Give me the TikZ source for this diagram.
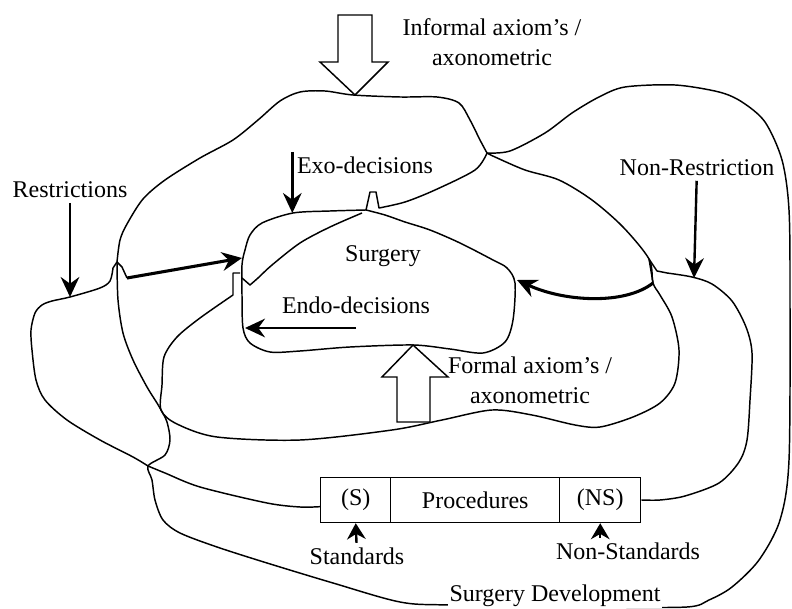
\documentclass[tikz,border=0pt]{standalone}
\usepackage{fontspec}
\setmainfont{Liberation Serif}
\usetikzlibrary{arrows.meta}
\newcommand{\cellheight}{33.75pt}
\newcommand{\widthstd}{52.5pt}
\newcommand{\widthproc}{126.75pt}
\newcommand{\widthnonstd}{60.75pt}
\tikzset{
    every node/.style={font=\fontsize{18}{22.5}\selectfont},
    curve/.style={line width=1.1pt, line join=round},
    cell/.style={draw, anchor=west, line width=1.1pt, minimum height=\cellheight, inner sep=0pt},
    pointer/.style={-{Stealth[length=15pt, width=14pt, inset=5pt]}, line width=1.8pt},
    pointer small/.style={-{Stealth[length=12pt, width=14pt, inset=4pt]}, line width=1.8pt},
    heavy/.style={-{Stealth[length=15pt, width=14pt, inset=5pt]}, line width=2.3pt},
    blockarrow/.style={draw, fill=white, line width=1.1pt, line join=miter}
}

\begin{document}
\begin{tikzpicture}[x=0.75pt, y=-0.75pt]
    \useasboundingbox (0,0) rectangle (792,609);

    % junctions of the outlines
    \coordinate (J) at (487,153);
    \coordinate (SL) at (117,262);
    \coordinate (SR) at (649,259);
    \coordinate (N1) at (161,410);
    \coordinate (N2) at (148,466);
    \coordinate (SLfoot) at (127,278);
    \coordinate (SRfoot) at (653,283);

    % procedures box
    \path (320,500) node[cell, minimum width=\widthstd] (cellS) {(S)}
        ++(70,0) node[cell, minimum width=\widthproc] (cellP) {Procedures}
        ++(169,0) node[cell, minimum width=\widthnonstd] (cellNS) {(NS)};
    \coordinate (boxL) at ([yshift=-5pt]cellS.west);

    % informal region, top
    \draw[curve] plot[smooth] coordinates {(SL) (120,240) (127,224) (143,199) (165,180) (200,158) (233,140)
        (258,120) (280,101) (300,92) (325,91) (353,95) (400,97) (437,97) (459,103) (470,120) (480,140) (J)};

    % left side and outer outline
    \draw[curve] plot[smooth] coordinates {(SL) (118,300) (123,333) (133,360) (147,387) (157,403) (N1)
        (167,422) (170,440) (165,455) (N2) (152,480) (155,500) (163,520) (180,533) (217,547) (267,563)
        (333,583) (400,602) (450,605) (600,607) (687,607) (709,600) (732,587) (759,560) (780,520)
        (789,460) (790,300) (789,210) (782,160) (765,122) (742,102) (719,92) (675,85) (625,87)
        (599,97) (572,113) (545,133) (510,151) (J)};

    % left lobe
    \draw[curve] plot[smooth] coordinates {(N2) (133,457) (100,440) (67,420) (45,400) (36,380) (32,350)
        (31,330) (35,313) (42,305) (52,301) (70,297) (100,288) (110,281) (113,268)}
        -- (SL) -- (122,267) -- (SLfoot);
    \draw[curve] plot[smooth] coordinates {(N2) (165,473) (200,487) (267,503) (300,507) (boxL)};

    % right lobe
    \draw[curve] plot[smooth] coordinates {(cellNS.east) (660,500) (685,496) (719,483) (739,462) (747,440)
        (750,400) (752,353) (746,327) (732,301) (712,284) (692,277) (667,273)}
        -- (657,271) -- (SR) -- (SRfoot);

    % middle region
    \draw[curve] (240,273) -- (233,273) -- (233,295) -- plot[smooth] coordinates {(233,295) (200,318)
        (177,337) (164,357) (162,385) (N1) (177,424) (217,437) (300,440) (392,430) (442,420) (492,410)
        (532,415) (575,425) (600,427) (633,417) (660,403) (675,383) (679,350) (672,317) (660,295)
        (SRfoot) (SR) (623,227) (592,200) (559,180) (525,170) (495,157) (J)};

    % surgery
    \draw[curve] plot[smooth] coordinates {(J) (475,170) (435,190) (405,202) (379,208)}
        -- (376,192) -- (370,192) -- (366,210) -- plot[smooth] coordinates {(366,210) (330,211)
        (293,213) (262,223) (250,235) (245,250) (242,265) (242,295) (243,328) (250,343) (270,352)
        (300,351) (350,347) (413,345) (450,349) (483,353) (505,342) (513,320) (515,283) (507,268)
        (493,260) (460,243) (430,230) (405,222) (385,215) (366,210)};
    \draw[curve] plot[smooth] coordinates {(362,213) (330,227) (300,243) (272,265) (258,278) (250,285)}
        -- (242,278);

    % axiom arrows
    \draw[blockarrow] (338,15) -- (372,15) -- (372,62) -- (388,62) -- (355,95) -- (320,62) -- (338,62) -- cycle;
    \draw[blockarrow] (397,422) -- (430,422) -- (430,377) -- (448,377) -- (413,345) -- (382,377) -- (397,377) -- cycle;

    % texts
    \node[align=center] (informal) at (492,42) {Informal axiom's /\\axonometric};
    \node (restr) at (70,190) {Restrictions};
    \node (exo) at (365,165) {Exo-decisions};
    \node (nonrestr) at (697,168) {Non-Restriction};
    \node (surgery) at (383,256) {Surgery};
    \node (endo) at (356,305) {Endo-decisions};
    \node[align=center] (formal) at (530,380) {Formal axiom's /\\axonometric};
    \node (std) at (357,556) {Standards};
    \node (nonstd) at (628,551) {Non-Standards};
    \node[fill=white, inner sep=1pt] (devel) at (555,596) {Surgery Development};

    % arrow ends
    \coordinate (restr-tip) at (70,297);
    \coordinate (exo-tip) at (290,213);
    \coordinate (nonrestr-tip) at (694,278);
    \coordinate (endo-tip) at (245,328);
    \coordinate (surgL) at (242,258);
    \coordinate (surgR) at (517,280);

    \draw[pointer] (restr) -- (restr-tip);
    \draw[pointer] (exo.north west) -- (exo.north west |- exo-tip);
    \draw[pointer] (nonrestr) -- (nonrestr-tip);
    \draw[pointer] (endo-tip -| endo.south) -- (endo-tip);
    \draw[heavy] (SLfoot) -- (surgL);
    \draw[heavy] (SRfoot) .. controls (625,305) and (565,302) .. (surgR);
    \draw[pointer small] (std) -- (cellS.south);
    \draw[pointer small] (nonstd.north -| cellNS.south) -- (cellNS.south);
\end{tikzpicture}
\end{document}
